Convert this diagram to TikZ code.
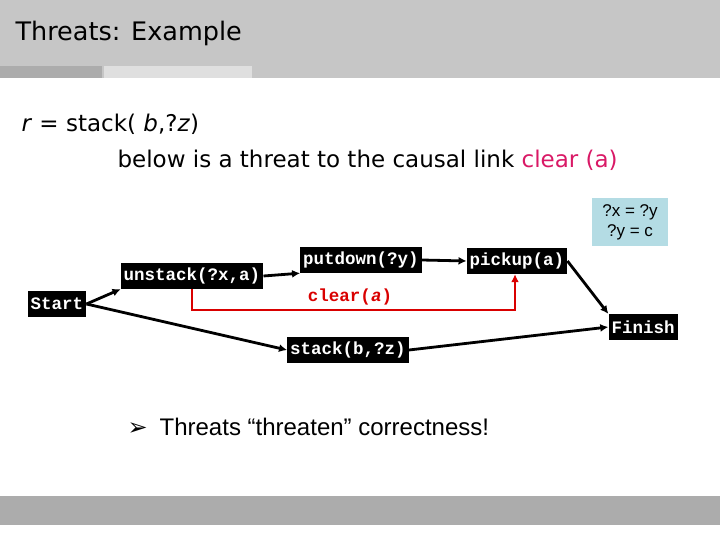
\documentclass[tikz,border=0pt]{standalone}
\usepackage{fontspec}
\setmainfont{DejaVu Sans}
\newfontfamily\mono{Liberation Mono}
\newfontfamily\arial{Liberation Sans}
\newfontfamily\dejavu{DejaVu Sans}
\usetikzlibrary{arrows.meta}
\begin{document}
\begin{tikzpicture}[x=1pt,y=-1pt,
 op/.style={fill=black,text=white,font=\mono\bfseries\fontsize{17.5}{19}\selectfont,inner sep=3pt,minimum height=26},
 ar/.style={line width=2.8pt,-{Latex[length=8pt,width=8pt]}},
 ]
\useasboundingbox (0,0) rectangle (720,540);
\fill[gray!45] (0,0) rectangle (720,78);
\fill[gray!65] (0,66) rectangle (102,78);
\fill[gray!25] (104,66) rectangle (252,78);
\node[anchor=west,font=\fontsize{25.5}{28}\selectfont] (title) at (12,33) {Threats: Example};
\fill[gray!65] (0,496) rectangle (720,525);
\node[anchor=west,font=\fontsize{23}{26}\selectfont] (r) at (18,124) {\textit{r} = stack( \textit{b},?\textit{z})};
\node[anchor=west,font=\fontsize{23}{26}\selectfont] (below) at (114,160) {below is a threat to the causal link \textcolor[rgb]{0.85,0.1,0.4}{clear (a)}};
\node[fill={rgb,255:red,180;green,220;blue,228},font=\arial\fontsize{17}{20}\selectfont,align=center,minimum width=76,minimum height=48] (bind) at (630,222) {?x = ?y\\?y = c};
\node[op] (start) at (57,304) {Start};
\node[op] (unstack) at (192,276) {unstack(?x,a)};
\node[op] (putdown) at (361,260) {putdown(?y)};
\node[op] (pickup) at (517,261) {pickup(a)};
\node[op] (finish) at (643,327) {Finish};
\node[op] (stack) at (348,350) {stack(b,?z)};
\draw[ar] (start.east) -- (unstack.south west);
\draw[ar] (unstack.east) -- (putdown.south west);
\draw[ar] (putdown.east) -- (pickup.west);
\draw[ar] (pickup.east) -- (finish.north west);
\draw[ar] (start.east) -- (stack.west);
\draw[ar] (stack.east) -- (finish.west);
\coordinate (c1) at (192,310);
\coordinate (c2) at (515,310);
\draw[line width=2.8pt,red!85!black,-{Latex[length=8pt,width=8pt]}] (unstack.south -| c1) -- (c1) -- (c2) -- (pickup.south -| c2);
\node[font=\mono\bfseries\fontsize{17.5}{19}\selectfont,text=red!85!black] (clear) at (350,297) {clear(\textit{a})};
\node[anchor=west,font=\arial\fontsize{24}{28}\selectfont] (bul) at (124,427) {{\dejavu\char"27A2}\enspace Threats “threaten” correctness!};
\end{tikzpicture}
\end{document}
